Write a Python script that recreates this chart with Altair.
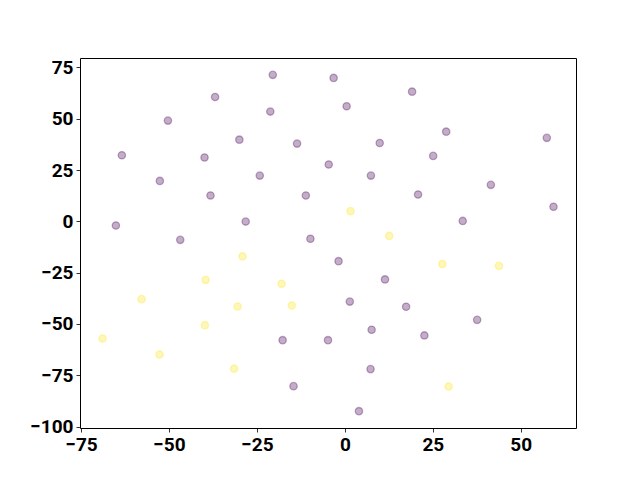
import altair as alt
import pandas as pd

# class 0 (purple) points
x0 = [-20.5, -36.9, -21.2, -50.3, -30.0, -13.6, -63.4, -39.9, -4.6, -24.2,
      -52.6, -38.2, -11.1, -65.1, -28.2, -46.8, -9.8, -3.2, 19.1, 0.5,
      28.8, 57.4, 9.9, 25.1, 7.4, 41.5, 20.8, 59.3, 33.5, -17.7,
      -4.8, -14.6, -1.8, 11.4, 1.4, 17.4, 37.6, 7.6, 22.6, 7.3, 4.0]
y0 = [71.4, 60.6, 53.5, 49.1, 39.8, 37.9, 32.2, 31.1, 27.7, 22.3,
      19.7, 12.6, 12.6, -2.0, -0.1, -9.0, -8.5, 69.9, 63.2, 56.1,
      43.7, 40.7, 38.2, 31.9, 22.3, 17.8, 13.1, 7.1, 0.2, -57.9,
      -57.9, -80.3, -19.4, -28.3, -39.1, -41.6, -48.0, -52.8, -55.6, -72.0, -92.5]

# class 1 (yellow) points
x1 = [1.6, 12.6, -29.1, -39.6, -18.0, -57.8, -30.5, -15.1, -39.8, -68.9,
      -52.7, -31.5, 27.7, 43.8, 29.5]
y1 = [5.0, -7.1, -17.1, -28.5, -30.4, -37.9, -41.5, -41.0, -50.6, -57.1,
      -64.9, -71.8, -20.8, -21.7, -80.5]

x_ticks = [-75, -50, -25, 0, 25, 50]
y_ticks = [-100, -75, -50, -25, 0, 25, 50, 75]

df = pd.DataFrame({
    "x": x0 + x1,
    "y": y0 + y1,
    "label": [0] * len(x0) + [1] * len(x1),
})

color_scale = alt.Scale(domain=[0, 1], range=["#440154", "#fde725"])
minus_expr = "replace(datum.label, '-', '\u2212')"

chart = alt.Chart(df).mark_circle(
    size=54, fillOpacity=0.32, strokeOpacity=0.32, strokeWidth=1.3
).encode(
    x=alt.X("x:Q", scale=alt.Scale(domain=[-75.3, 65.7], nice=False, zero=False),
            axis=alt.Axis(values=x_ticks, title=None, grid=False, labelExpr=minus_expr)),
    y=alt.Y("y:Q", scale=alt.Scale(domain=[-100.7, 79.6], nice=False, zero=False),
            axis=alt.Axis(values=y_ticks, title=None, grid=False, labelExpr=minus_expr)),
    color=alt.Color("label:O", scale=color_scale, legend=None),
    stroke=alt.Stroke("label:O", scale=color_scale, legend=None),
).properties(
    width=496, height=370,
    autosize=alt.AutoSizeParams(type="none"),
    padding={"left": 72, "top": 50, "right": 50, "bottom": 45},
).configure_view(
    stroke="black", strokeWidth=1
).configure_axis(
    domain=False,
    tickColor="black", tickWidth=0.8, tickSize=4,
    labelFont="Roboto", labelFontSize=19, labelFontWeight="bold",
    labelColor="black", labelPadding=3,
)

chart.save("out.html", embed_options={"renderer": "svg", "actions": False})
